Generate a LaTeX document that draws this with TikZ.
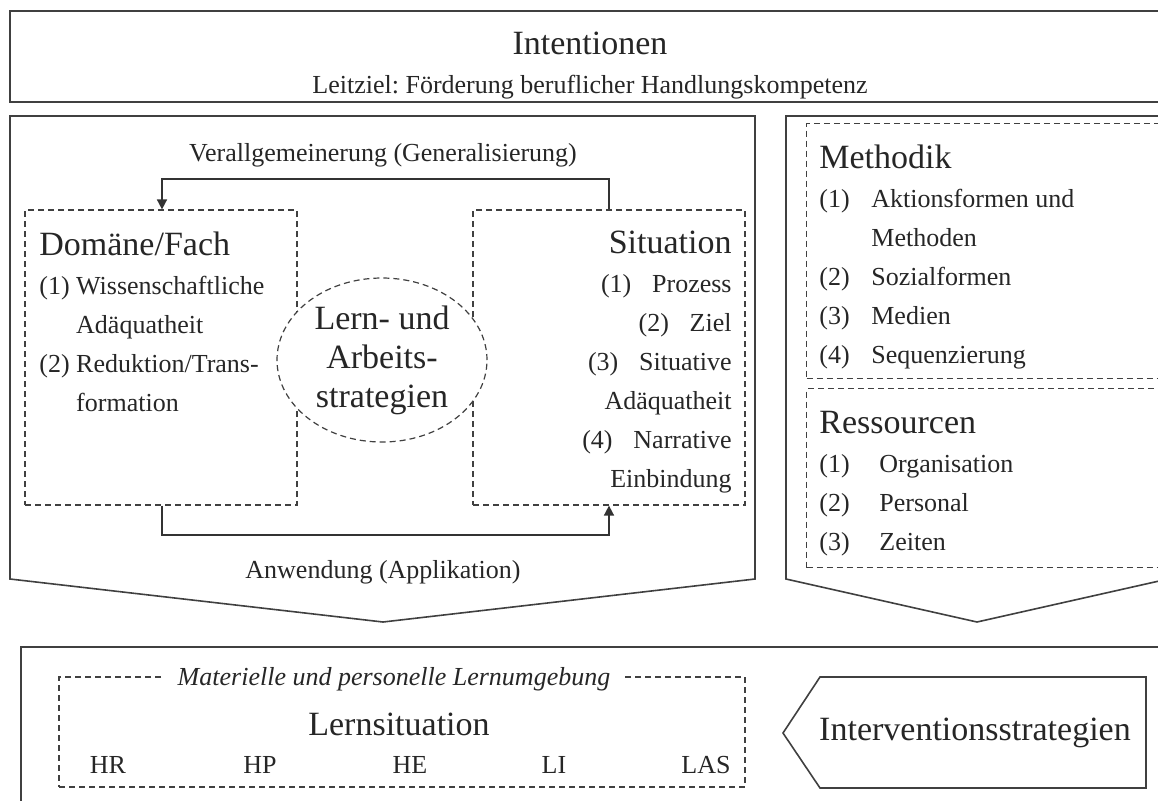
\documentclass[tikz,border=0pt]{standalone}
\usepackage{fontspec}
\setmainfont{Liberation Serif}
\usetikzlibrary{arrows.meta,shapes.geometric}
\frenchspacing
\newcommand{\headfont}{\fontsize{17}{19.5}\selectfont}
\newcommand{\bodyfont}{\fontsize{13}{19.5}\selectfont}
\newcommand{\lst}[2][26pt]{\makebox[#1][l]{(#2)}}

\begin{document}
\begin{tikzpicture}[x=0.5pt,y=-0.5pt,
  frame/.style={draw=black!75,line width=0.8pt},
  dbox/.style={draw=black!75,line width=0.6pt,dash pattern=on 3pt off 2pt},
  flow/.style={draw=black!80,line width=0.8pt,-{Triangle[length=5pt,width=5pt]}},
  txt/.style={text=black!85,font=\bodyfont,inner sep=0pt},
  head/.style={text=black!85,font=\headfont,inner sep=0pt}]
\useasboundingbox (0,0) rectangle (1158,800);

% Intentionen
\draw[frame] (10,11) rectangle (1170,102);
\node[head] (intent) at (590,43) {Intentionen};
\node[txt] (leitziel) at (590,87) {Leitziel: Förderung beruflicher Handlungskompetenz};

% linker Pfeil: Domaene / Situation
\draw[frame] (10,116) -- (755,116) -- (755,579) -- (383,622) -- (10,579) -- cycle;
\node[txt] (verall) at (383,155) {Verallgemeinerung (Generalisierung)};
\node[txt] (anwend) at (383,572) {Anwendung (Applikation)};
\node[dbox,minimum width=136pt,minimum height=147.5pt,inner sep=0pt] (dom) at (161,357.5) {};
\node[dbox,minimum width=136pt,minimum height=147.5pt,inner sep=0pt] (sit) at (609,357.5) {};
\node[txt,anchor=north west,align=left] (domtxt) at (39,231)
  {{\headfont Domäne/Fach}\\
   (1) Wissenschaftliche\\
   \hphantom{(1) }Adäquatheit\\
   (2) Reduktion/Trans-\\
   \hphantom{(2) }formation};
\node[txt,anchor=north east,align=right] (sittxt) at (732,231)
  {{\headfont Situation}\\
   (1)\hspace{0.8em}Prozess\\
   (2)\hspace{0.8em}Ziel\\
   (3)\hspace{0.8em}Situative\\
   Adäquatheit\\
   (4)\hspace{0.8em}Narrative\\
   Einbindung};
\node[dbox,ellipse,fill=white,minimum width=105pt,minimum height=82pt,inner sep=0pt,
  head,align=center] (las) at (382,360) {Lern- und\\Arbeits-\\strategien};
\coordinate (genl) at (162,179);
\coordinate (genr) at (609,179);
\coordinate (appl) at (162,535);
\coordinate (appr) at (609,535);
\draw[flow] (sit.north -| genr) -- (genr) -- (genl) -- (dom.north -| genl);
\draw[flow] (dom.south -| appl) -- (appl) -- (appr) -- (sit.south -| appr);

% rechter Pfeil: Methodik / Ressourcen
\draw[frame] (786,116) -- (1168,116) -- (1168,579) -- (977,622) -- (786,579) -- cycle;
\node[dbox,anchor=north west,minimum width=182pt,minimum height=127.5pt,inner sep=0pt] (meth) at (806,123) {};
\node[dbox,anchor=north west,minimum width=182pt,minimum height=89.5pt,inner sep=0pt] (res) at (806,388) {};
\node[txt,anchor=north west,align=left] (methtxt) at (819,144)
  {{\headfont Methodik}\\
   \lst{1}Aktionsformen und\\
   \hspace{26pt}Methoden\\
   \lst{2}Sozialformen\\
   \lst{3}Medien\\
   \lst{4}Sequenzierung};
\node[txt,anchor=north west,align=left] (restxt) at (819,411)
  {{\headfont Ressourcen}\\
   \lst[30pt]{1}Organisation\\
   \lst[30pt]{2}Personal\\
   \lst[30pt]{3}Zeiten};

% Lernsituation
\draw[frame] (21,647) rectangle (1175,830);
\node[dbox,minimum width=343pt,minimum height=55pt,inner sep=0pt] (lsit) at (402,732) {};
\node[txt,font=\bodyfont\itshape,fill=white,inner xsep=7pt,inner ysep=2pt] (umgeb) at (394,679)
  {Materielle und personelle Lernumgebung};
\node[head] (lsittxt) at (399,724) {Lernsituation};
\node[txt] (hr) at (108,765) {HR};
\node[txt] (hp) at (260,765) {HP};
\node[txt] (he) at (410,765) {HE};
\node[txt] (li) at (554,765) {LI};
\node[txt] (las2) at (706,765) {LAS};
\draw[frame] (783,733) -- (820,677) -- (1146,677) -- (1146,788) -- (820,788) -- cycle;
\node[head] (interv) at (975,733) {Interventionsstrategien};
\end{tikzpicture}
\end{document}
